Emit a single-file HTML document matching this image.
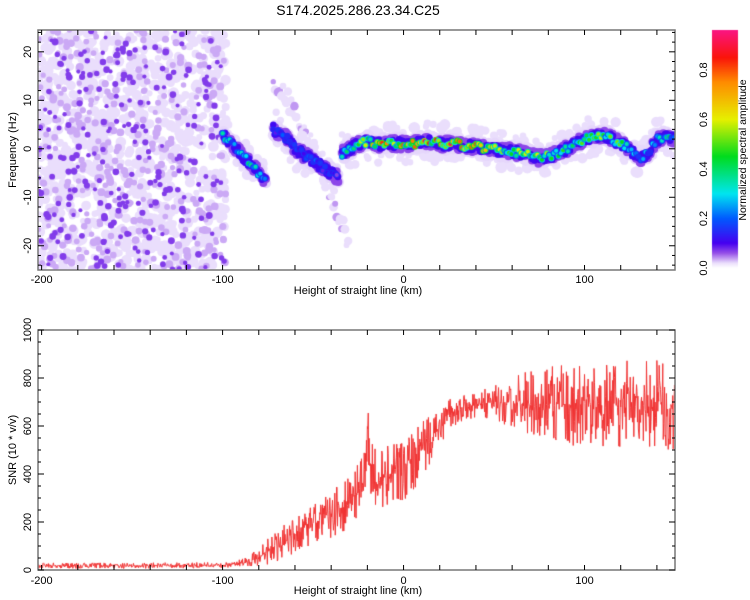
<!DOCTYPE html>
<html><head><meta charset="utf-8"><style>
body{margin:0;background:#fff;width:750px;height:600px;overflow:hidden;font-family:"Liberation Sans",sans-serif}
#root{position:relative;width:750px;height:600px}
canvas,svg{position:absolute;left:0;top:0}
</style></head><body><div id="root">
<canvas id="hm" width="750" height="600"></canvas>
<canvas id="sn" width="750" height="600"></canvas>
<svg id="ax" width="750" height="600"></svg>
</div>
<script>
// ---- data ----
const ridgeHeights = [-100,-95,-90,-85,-80,-76, -72,-68,-64,-60,-56,-52,-48,-44,-40,-36, -34,-30,-25,-20,-15,-10,-5,0,5,10,15,20,25,30,35,40,45,50,55,60,65,70,75,80,85,90,95,100,105,110,115,120,125,130,135,140,145,150];
const ridgeFreqs   = [3,1,-1,-3,-5,-7, 4,3,2,0,-1,-2,-3,-4,-5,-6, -1,0,1,1.5,1,1,1,1,1,1.5,1.5,1,1,1,0.5,0.5,0,0,-0.5,-0.5,-1,-1,-2,-1.5,-1,0,1,2,2.5,3,2,1,0,-2,-1,2,2.5,2];
const ridgeAmps    = [0.35,0.3,0.3,0.4,0.45,0.3, 0.15,0.2,0.2,0.2,0.2,0.25,0.2,0.15,0.15,0.1, 0.35,0.4,0.55,0.65,0.7,0.8,0.8,0.85,0.85,0.85,0.8,0.85,0.85,0.85,0.8,0.8,0.65,0.6,0.55,0.6,0.55,0.55,0.6,0.55,0.5,0.45,0.45,0.55,0.6,0.6,0.5,0.55,0.3,0.3,0.25,0.35,0.4,0.3];
const streakHeights = [-72,-60,-50,-40,-30];
const streakFreqs   = [14,8,0,-10,-20];
const snrHeights = [-202,-150,-100,-90,-80,-70,-60,-50,-40,-30,-22,-20,-18,-15,-10,-5,0,5,10,15,20,25,30,40,50,60,80,100,120,140,150];
const snrMean    = [18,18,20,28,50,100,150,190,230,280,360,600,420,360,390,420,420,450,500,550,600,640,670,690,700,700,690,690,690,690,680];
const snrSpread  = [12,12,12,18,40,70,80,90,100,110,130,180,130,130,140,140,130,130,120,100,80,70,60,55,70,110,170,180,180,190,190];
const xTicks = [-200,-100,0,100];
const fTicks = [-20,-10,0,10,20];
const sTicks = [0,200,400,600,800,1000];
const cTicks = [0.0,0.2,0.4,0.6,0.8];

// ---- scales ----
const X0=38,X1=675;const xmin=-202,xmax=150;
const xs=v=>X0+(v-xmin)/(xmax-xmin)*(X1-X0);
const T0=30,T1=270;const fmin=-25,fmax=24.5;
const fy=v=>T1-(v-fmin)/(fmax-fmin)*(T1-T0);
const B0=330,B1=570;const sy=v=>B1-(v/1000)*(B1-B0);
const C0=30,C1=270;const cy=v=>268-v*247.5;

function hash(i){let x=Math.sin(i*127.1+311.7)*43758.5453;return x-Math.floor(x);}
const stops=[[0,[255,255,255]],[0.02,[234,222,252]],[0.06,[150,80,232]],[0.1,[70,0,240]],[0.2,[0,90,255]],[0.3,[0,230,240]],[0.45,[0,220,30]],[0.6,[230,240,0]],[0.75,[255,140,0]],[0.85,[250,20,10]],[0.96,[250,20,130]]];
function cmap(v){for(let i=1;i<stops.length;i++){if(v<=stops[i][0]){const a=stops[i-1],b=stops[i];const t=(v-a[0])/(b[0]-a[0]);return 'rgb('+a[1].map((c,k)=>Math.round(c+(b[1][k]-c)*t)).join(',')+')';}}return 'rgb(250,20,130)';}
function interp(xsA,ys,x){if(x<=xsA[0])return ys[0];for(let i=1;i<xsA.length;i++){if(x<=xsA[i]){const t=(x-xsA[i-1])/(xsA[i]-xsA[i-1]);return ys[i-1]+(ys[i]-ys[i-1])*t;}}return ys[ys.length-1];}

// ---- heatmap ----
const hc=document.getElementById('hm').getContext('2d');
hc.save();hc.beginPath();hc.rect(X0,T0,X1-X0,T1-T0);hc.clip();
function blob(h,f,r,v){hc.fillStyle=cmap(v);hc.beginPath();hc.arc(xs(h),fy(f),r,0,6.3);hc.fill();}
// background noise texture (left region)
for(let i=0;i<1000;i++){const h=xmin+hash(i)*(-98-xmin);const f=fmin+hash(i+5000)*(fmax-fmin);blob(h,f,3+hash(i+17)*2.5,0.02);}
for(let i=0;i<350;i++){const h=xmin+hash(i+800)*(-98-xmin);const f=fmin+hash(i+6100)*(fmax-fmin);blob(h,f,2.5+hash(i+23)*1.5,0.035);}
for(let i=0;i<240;i++){const h=xmin+hash(i+1900)*(-98-xmin);const f=fmin+hash(i+7300)*(fmax-fmin);blob(h,f,2+hash(i+31)*1.5,0.07);}
// faint streak
for(let h=streakHeights[0];h<=streakHeights[streakHeights.length-1];h+=0.9){const f=interp(streakHeights,streakFreqs,h)+(hash(h*5)-0.5)*4;blob(h,f,2.5+hash(h*9)*2,hash(h*7)>0.7?0.04:0.02);}
function segRanges(){return [[0,5],[6,15],[16,ridgeHeights.length-1]];}
function along(step,fn){segRanges().forEach(([a,b])=>{const H=ridgeHeights.slice(a,b+1),F=ridgeFreqs.slice(a,b+1),A=ridgeAmps.slice(a,b+1);for(let h=H[0];h<=H[H.length-1];h+=step)fn(h,interp(H,F,h),interp(H,A,h));});}
// wide faint halo + scatter
along(0.8,(h,f)=>{blob(h,f+(hash(h*11)-0.5)*8,3+hash(h*13)*3,0.02);});
along(0.5,(h,f)=>{blob(h,f+(hash(h*3.3)-0.5)*3,5,0.022);});
along(0.5,(h,f)=>{blob(h,f+(hash(h*4.1)-0.5)*2.5,4,0.065);});
along(0.7,(h,f,a)=>{blob(h,f+(hash(h*5.7)-0.5)*2,3.2,0.11);});
along(1.3,(h,f,a)=>{const v=a*(0.5+0.6*hash(h*3.1));blob(h,f+(hash(h*2.9)-0.5)*1.5,3,Math.max(0.15,v*0.6));blob(h,f+(hash(h*2.9)-0.5)*1.5,2,v);});
hc.restore();
// colorbar
const g=hc.createLinearGradient(0,cy(0),0,cy(0.96));stops.forEach(s=>g.addColorStop(Math.min(1,s[0]/0.96),cmap(s[0])));
hc.fillStyle=g;hc.fillRect(712,C0,26,C1-C0);

// ---- SNR ----
const sc=document.getElementById('sn').getContext('2d');
sc.save();sc.beginPath();sc.rect(X0,B0,X1-X0,B1-B0);sc.clip();
sc.strokeStyle='#f03232';sc.lineWidth=1;sc.beginPath();
let k=0;for(let h=xmin;h<=xmax;h+=0.25,k++){const m=interp(snrHeights,snrMean,h),s=interp(snrHeights,snrSpread,h);const r=hash(k*1.7)-0.5;const v=Math.max(0,m+Math.sign(r)*Math.pow(Math.abs(r)*2,1.6)*s);const X=xs(h),Y=sy(v);k?sc.lineTo(X,Y):sc.moveTo(X,Y);}
sc.stroke();sc.restore();

// ---- axes ----
const svg=document.getElementById('ax');const NS='http://www.w3.org/2000/svg';
function el(t,a,txt){const e=document.createElementNS(NS,t);for(const k in a)e.setAttribute(k,a[k]);if(txt!==undefined)e.textContent=txt;svg.appendChild(e);return e;}
function frame(y0,y1,name){const r=el('rect',{x:X0,y:y0,width:X1-X0,height:y1-y0,fill:'none',stroke:'#777','stroke-width':1.5});}
function tk(x1,y1,x2,y2){const l=el('line',{x1,y1,x2,y2,stroke:'#000','stroke-width':1});}
function lab(x,y,t,anchor,name,rot){const a={x,y,'font-size':11,'text-anchor':anchor||'middle',fill:'#000'};if(rot)a.transform='rotate(-90 '+x+' '+y+')';const e=el('text',a,t);return e;}
frame(T0,T1,'top-plot-frame');frame(B0,B1,'bottom-plot-frame');
[[T0,T1],[B0,B1]].forEach(([a,b])=>{for(let v=-200;v<=150;v+=20){const X=xs(v);tk(X,a,X,a+5);tk(X,b,X,b-5);}});
xTicks.forEach(v=>{lab(xs(v),283,String(v),'middle','x-tick-label-top');lab(xs(v),584,String(v),'middle','x-tick-label-bottom');});
for(let v=-24;v<=24;v+=2){const Y=fy(v);const L=v%10===0?6:3;tk(X0,Y,X0+L,Y);tk(X1,Y,X1-L,Y);}
fTicks.forEach(v=>lab(31,fy(v),String(v),'middle','y-tick-label-freq',true));
for(let v=0;v<=1000;v+=50){const Y=sy(v);const L=v%200===0?6:3;tk(X0,Y,X0+L,Y);tk(X1,Y,X1-L,Y);}
sTicks.forEach(v=>lab(31,sy(v),String(v),'middle','y-tick-label-snr',true));
cTicks.forEach(v=>lab(707,cy(v),v.toFixed(1),'middle','colorbar-tick-label',true));
lab(746,150,'Normalized spectral amplitude','middle','colorbar-title',true).setAttribute('font-size','10.5');
lab(16,150,'Frequency (Hz)','middle','y-axis-title-freq',true);
lab(16,450,'SNR (10 * v/v)','middle','y-axis-title-snr',true);
lab(358,294,'Height of straight line (km)','middle','x-axis-title-top');
lab(358,594,'Height of straight line (km)','middle','x-axis-title-bottom');
lab(358,15,'S174.2025.286.23.34.C25','middle','chart-title').setAttribute('font-size','14');
</script></body></html>
